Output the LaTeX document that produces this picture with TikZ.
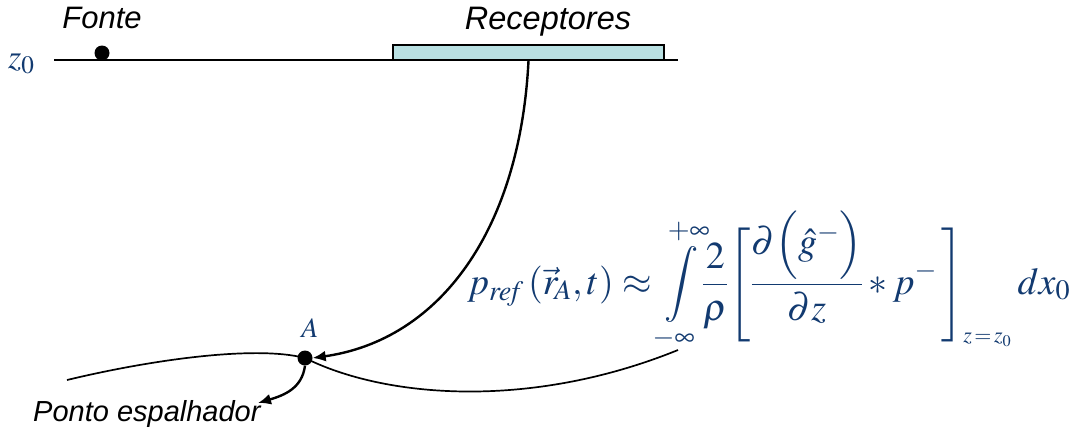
\documentclass[tikz,border=0pt]{standalone}
\usepackage{amsmath}
\usepackage{mathptmx}
\usepackage[no-math]{fontspec}
\usepackage{tikz}
\usetikzlibrary{arrows.meta}

\newfontfamily\arialf{Liberation Sans}
\definecolor{eqblue}{RGB}{18,58,112}
\definecolor{recfill}{RGB}{185,224,226}

\begin{document}
\begin{tikzpicture}[
  x=1pt, y=-1pt,
  line/.style={line width=1.7pt},
  arr/.style={line width=2.4pt, -{Latex[length=13pt,width=11pt]}},
  lbl/.style={font=\arialf\itshape\fontsize{29}{34}\selectfont, inner sep=0pt},
  eq/.style={text=eqblue, inner sep=0pt},
  dot/.style={circle, fill=black, minimum size=15pt, inner sep=0pt},
]
\useasboundingbox (0,0) rectangle (1081,432);

% surface z0 with source and receivers
\coordinate (zl) at (54,60);
\coordinate (zr) at (678,60);
\draw[line] (zl) -- (zr);
\node[draw, line width=1.3pt, fill=recfill, minimum width=271pt, minimum height=15pt,
      inner sep=0pt] (rec) at (528.5,52.5) {};
\node[dot] (fonte) at (102,53) {};
\node[lbl, anchor=base, font=\arialf\itshape\fontsize{31}{36}\selectfont] (fontelbl) at (102,28) {Fonte};
\node[lbl, anchor=base, font=\arialf\itshape\fontsize{32.5}{38}\selectfont] (reclbl) at (548,29) {Receptores};
\node[eq, anchor=base west, font=\fontsize{34}{40}\selectfont] (zlbl) at (8,68) {$z_0$};

% scatterer A on the reflector
\node[dot] (ptA) at (305,358) {};
\node[eq, anchor=base, font=\fontsize{28}{34}\selectfont] (albl) at (310,337) {$A$};
\coordinate (bl) at (67,380);
\coordinate (br) at (678,350);
\draw[line] (bl) .. controls (150,360) and (255,345) .. (ptA.center)
            .. controls (385,398) and (530,410) .. (br);
\draw[arr] (rec.south) .. controls (520,230) and (440,340) .. (ptA.east);
\coordinate (tipP) at (258,403);
\draw[arr] (ptA.south) .. controls (302,388) and (285,395) .. (tipP);
\node[lbl, anchor=base west] (ponto) at (33,421) {Ponto espalhador};

% Kirchhoff integral
\node[eq, anchor=base west, font=\fontsize{38}{44}\selectfont] (formula) at (467,294)
  {$\displaystyle p_{\mathit{ref}}\,(\vec{r}_{\!A},t)\approx\int\limits_{-\infty}^{+\infty}\!\frac{2}{\rho}
   \Biggl[\frac{\partial\Bigl(\hat{g}^{-}\Bigr)}{\partial z}*p^{-}\,\Biggr]_{\mbox{\fontsize{22}{26}\selectfont$z\!=\!z_0$}}
   \hspace{6pt}dx_0$};
\end{tikzpicture}
\end{document}
